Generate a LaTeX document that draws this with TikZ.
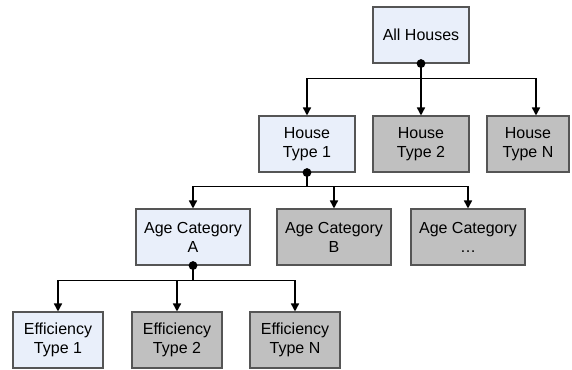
\documentclass[tikz,border=0pt]{standalone}
\usepackage{fontspec}
\setmainfont{Liberation Sans}
\usetikzlibrary{arrows.meta}
\definecolor{paleblue}{RGB}{233,239,250}
\definecolor{shade}{RGB}{192,192,192}
\definecolor{rim}{RGB}{85,85,85}
\tikzset{
  >={Triangle[length=6pt,width=6pt]},
  cell/.style={draw=rim,fill=#1,line width=0.8pt,minimum height=42pt,
    align=center,inner sep=0pt,font=\fontsize{12}{14.2}\selectfont},
  cell/.default=paleblue,
  link/.style={->,line width=1.2pt,draw=black},
  knot/.style={fill=black},
}
\begin{document}
\begin{tikzpicture}[x=0.75pt,y=-0.75pt]
  \useasboundingbox (0,0) rectangle (572,369);
  % top level
  \node[cell,minimum width=72pt] (all) at (421,35) {All Houses};
  \node[cell,minimum width=72pt] (ht1) at (307,144) {House\\Type 1};
  \node[cell=shade,minimum width=72pt] (ht2) at (421,144) {House\\Type 2};
  \node[cell=shade,minimum width=61.5pt] (htn) at (528,144) {House\\Type N};
  % age categories
  \node[cell,minimum width=85.5pt] (agea) at (193,237) {Age Category\\A};
  \node[cell=shade,minimum width=85.5pt] (ageb) at (334,237) {Age Category\\B};
  \node[cell=shade,minimum width=85.5pt] (agec) at (468,237) {Age Category\\\dots};
  % efficiency types
  \node[cell,minimum width=67.5pt] (eff1) at (58,340) {Efficiency\\Type 1};
  \node[cell=shade,minimum width=67.5pt] (eff2) at (177,340) {Efficiency\\Type 2};
  \node[cell=shade,minimum width=67.5pt] (effn) at (295,340) {Efficiency\\Type N};
  % connectors
  \draw[link] (all.south) -- ++(0,15) -| (ht1.north);
  \draw[link] (all.south) -- (ht2.north);
  \draw[link] (all.south) -- ++(0,15) -| ([xshift=6pt]htn.north);
  \draw[link] (ht1.south) -- ++(0,14) -| (agea.north);
  \draw[link] (ht1.south) -- ++(0,14) -| (ageb.north);
  \draw[link] (ht1.south) -- ++(0,14) -| (agec.north);
  \draw[link] (agea.south) -- ++(0,15) -| (eff1.north);
  \draw[link] (agea.south) -- ++(0,15) -| (eff2.north);
  \draw[link] (agea.south) -- ++(0,15) -| (effn.north);
  \fill[knot] (all.south) circle (3.3pt);
  \fill[knot] (ht1.south) circle (3.3pt);
  \fill[knot] (agea.south) circle (3.3pt);
\end{tikzpicture}
\end{document}
